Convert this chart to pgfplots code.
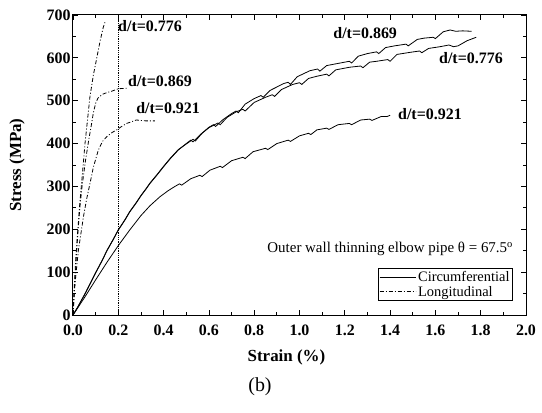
\documentclass[border=0pt]{standalone}
\usepackage{fontspec}
\setmainfont{Liberation Serif}
\usepackage{pgfplots}
\pgfplotsset{compat=1.18}
\begin{document}
\begin{tikzpicture}
\pgfplotsset{/pgf/number format/assume math mode=true}
\begin{axis}[
  at={(0,0)}, anchor=south west, name=ax,
  width=453bp, height=300bp, scale only axis,
  xmin=0, xmax=2, ymin=0, ymax=700,
  xtick={0,0.2,0.4,0.6,0.8,1.0,1.2,1.4,1.6,1.8,2.0},
  ytick={0,100,200,300,400,500,600,700},
  minor x tick num=1, minor y tick num=1,
  tick align=inside, tick pos=both,
  major tick length=5bp, minor tick length=3bp,
  axis line style={line width=1bp},
  every tick/.style={black, line width=0.8bp},
  ticklabel style={font=\bfseries\fontsize{16}{16}\selectfont},
  xticklabel style={/pgf/number format/.cd, fixed, fixed zerofill, precision=1, /tikz/yshift=-6.5bp},
  yticklabel style={/pgf/number format/.cd, fixed, precision=0, /tikz/xshift=1bp},
  xlabel={\bfseries Strain (\%)},
  ylabel={\bfseries Stress (MPa)},
  label style={font=\bfseries\fontsize{17}{17}\selectfont},
  xlabel style={xshift=-13bp, yshift=-7bp},
  ylabel style={yshift=15bp},
  legend style={at={(rel axis cs:0.971,0.047)}, anchor=south east, draw=black,
    line width=0.6bp, font=\fontsize{14.5}{15}\selectfont, inner sep=1bp,
    row sep=-1bp, cells={anchor=west}},
  legend image code/.code={\draw[#1] (0bp,0bp) -- (36bp,0bp);},
  every axis plot/.append style={line width=0.8bp, black},
]
% Circumferential d/t = 0.869
\addplot[solid] coordinates {
(0,0) (0.02,18) (0.05,47) (0.08,77) (0.1,98) (0.13,128) (0.15,150) (0.18,178) (0.2,198)
(0.23,222) (0.25,240) (0.28,262) (0.3,278) (0.32,292) (0.34,307) (0.37,326) (0.4,346)
(0.43,365) (0.465,385) (0.5,400) (0.52,408) (0.53,404) (0.56,420) (0.6,438) (0.62,444)
(0.63,440) (0.66,455) (0.7,470) (0.72,476) (0.73,472) (0.76,492) (0.8,505) (0.83,512)
(0.84,508) (0.87,524) (0.93,540) (0.95,543) (0.96,538) (0.99,556) (1.046,570) (1.08,574)
(1.09,569) (1.12,582) (1.18,588) (1.22,592) (1.23,588) (1.26,604) (1.3,610) (1.34,614)
(1.35,610) (1.38,624) (1.42,628) (1.47,632) (1.48,628) (1.52,643) (1.55,646) (1.59,648)
(1.6,645) (1.635,661) (1.665,665) (1.69,662) (1.72,663) (1.76,662)
};
\addlegendentry{Circumferential}
% Circumferential d/t = 0.776
\addplot[solid, forget plot] coordinates {
(0,0) (0.02,17) (0.05,46) (0.08,78) (0.1,99) (0.13,129) (0.15,151) (0.18,179) (0.2,199)
(0.23,223) (0.25,241) (0.28,263) (0.3,279) (0.32,293) (0.34,308) (0.37,327) (0.4,347)
(0.43,366) (0.465,386) (0.5,399) (0.53,410) (0.54,406) (0.57,424) (0.6,437) (0.64,448)
(0.65,444) (0.68,461) (0.72,474) (0.75,480) (0.76,476) (0.8,496) (0.85,508) (0.88,514)
(0.89,510) (0.92,526) (0.97,538) (1.0,542) (1.01,538) (1.04,552) (1.076,557) (1.12,562)
(1.13,558) (1.16,572) (1.22,578) (1.27,581) (1.28,577) (1.31,590) (1.34,592) (1.39,596)
(1.4,592) (1.43,608) (1.49,613) (1.53,616) (1.54,612) (1.57,622) (1.62,626) (1.66,630)
(1.68,626) (1.7,628) (1.74,640) (1.78,648)
};
% Circumferential d/t = 0.921
\addplot[solid, forget plot] coordinates {
(0,0) (0.05,40) (0.1,82) (0.15,123) (0.2,162) (0.25,198) (0.3,232) (0.34,255) (0.384,276)
(0.42,290) (0.45,300) (0.47,306) (0.48,303) (0.52,318) (0.56,326) (0.57,323) (0.605,338)
(0.65,347) (0.66,344) (0.7,360) (0.75,368) (0.76,365) (0.795,381) (0.85,389) (0.86,386)
(0.9,400) (0.95,408) (0.96,405) (1.0,418) (1.04,424) (1.05,421) (1.077,432) (1.12,436)
(1.13,433) (1.17,444) (1.22,447) (1.23,444) (1.27,455) (1.31,457) (1.32,454) (1.36,463)
(1.386,463) (1.4,466)
};
% Longitudinal d/t = 0.776
\addplot[dash pattern=on 4bp off 2bp on 1bp off 2bp] coordinates {
(0,0) (0.005,60) (0.012,130) (0.02,190) (0.03,260) (0.04,320) (0.053,400) (0.065,460)
(0.075,510) (0.09,560) (0.105,600) (0.12,640) (0.133,670) (0.141,683)
};
\addlegendentry{Longitudinal}
% Longitudinal d/t = 0.869
\addplot[dash pattern=on 4bp off 2bp on 1bp off 2bp, forget plot] coordinates {
(0,0) (0.005,50) (0.012,110) (0.02,180) (0.03,250) (0.04,300) (0.055,360) (0.07,410)
(0.08,440) (0.09,472) (0.1,494) (0.11,506) (0.13,515) (0.15,519) (0.17,522) (0.2,528) (0.237,529)
};
% Longitudinal d/t = 0.921
\addplot[dash pattern=on 4bp off 2bp on 1bp off 2bp, forget plot] coordinates {
(0,0) (0.009,74) (0.024,152) (0.035,190) (0.046,229) (0.06,270) (0.075,307) (0.09,345)
(0.112,385) (0.13,405) (0.149,416) (0.17,425) (0.193,432) (0.215,440) (0.237,447)
(0.28,455) (0.32,453) (0.362,453)
};
% 0.2% offset line
\addplot[densely dotted, line width=0.6bp, forget plot] coordinates {(0.2,0) (0.2,700)};
\begin{scope}[every node/.style={font=\bfseries\fontsize{16}{16}\selectfont}]
\node at (axis cs:0.34,674) {d/t=0.776};
\node at (axis cs:0.384,546) {d/t=0.869};
\node at (axis cs:0.42,482) {d/t=0.921};
\node at (axis cs:1.29,658) {d/t=0.869};
\node at (axis cs:1.757,600) {d/t=0.776};
\node at (axis cs:1.576,469) {d/t=0.921};
\end{scope}
\node[anchor=base east, inner sep=0pt, font=\fontsize{15}{15}\selectfont]
  at (axis cs:1.943,145) {Outer wall thinning elbow pipe θ = 67.5\textsuperscript{o}};
\end{axis}
\node[font=\fontsize{20}{20}\selectfont] at (187bp,-72bp) {(b)};
\pgfresetboundingbox
\path[use as bounding box] (-73bp,-98bp) rectangle (469bp,315bp);
\end{tikzpicture}
\end{document}
